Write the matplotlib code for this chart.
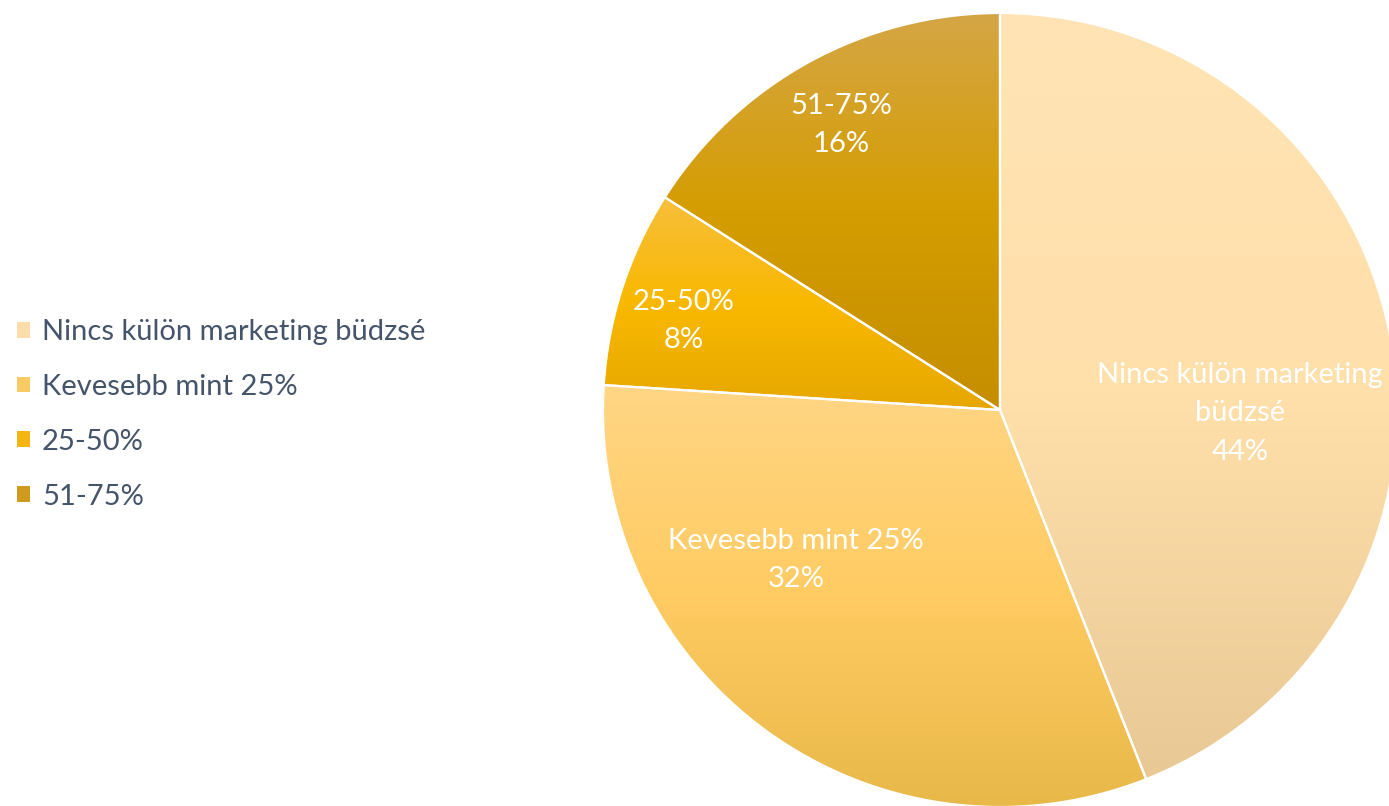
import numpy as np
import matplotlib
matplotlib.use('Agg')
import matplotlib.pyplot as plt
from matplotlib.colors import LinearSegmentedColormap
from matplotlib.patches import Patch

plt.rcParams['font.family'] = ['Lato', 'DejaVu Sans']

categories = ['Nincs külön marketing büdzsé', 'Kevesebb mint 25%', '25-50%', '51-75%']
shares = [44, 32, 8, 16]
wedge_labels = ['Nincs külön marketing\nbüdzsé', 'Kevesebb mint 25%', '25-50%', '51-75%']

# three-stop vertical gradient per wedge: top / middle / bottom
grad_top = ['#FFE4B5', '#FFD685', '#F7BF3C', '#D5A646']
grad_mid = ['#FFDFAA', '#FFCB62', '#F9B800', '#D49D00']
grad_bottom = ['#E8C894', '#E8B849', '#E6A700', '#C48E00']
legend_col = ['#FADDAA', '#FACB65', '#F4B412', '#CF9B1E']

# label centres in axis units (radius = 1)
label_xy = [(0.605, -0.008), (-0.514, -0.378), (-0.796, 0.224), (-0.401, 0.718)]

W, H = 1389, 806
fig = plt.figure(figsize=(W / 100, H / 100), dpi=100)

cx, cy, r = 1000, 410, 397
ax = fig.add_axes([(cx - r) / W, (H - cy - r) / H, 2 * r / W, 2 * r / H])

wedges, _ = ax.pie(shares, startangle=90, counterclock=False, radius=1,
                   wedgeprops=dict(edgecolor='white', linewidth=1.6))

grad = np.linspace(0, 1, 256).reshape(-1, 1)
for i, w in enumerate(wedges):
    w.set_facecolor('none')
    ext = w.get_path().get_extents()
    cmap = LinearSegmentedColormap.from_list(
        f'g{i}', [grad_bottom[i], grad_mid[i], grad_top[i]])
    im = ax.imshow(grad, cmap=cmap, origin='lower', aspect='auto',
                   extent=[ext.x0, ext.x1, ext.y0, ext.y1], zorder=w.get_zorder() - 0.1,
                   interpolation='bilinear')
    im.set_clip_path(w)

for i, (lx, ly) in enumerate(label_xy):
    ax.text(lx, ly, f'{wedge_labels[i]}\n{shares[i]}%', ha='center', va='center',
            color='white', fontsize=21, linespacing=1.6, zorder=5)

ax.set_xlim(-1, 1)
ax.set_ylim(-1, 1)
ax.set_aspect('equal')
ax.axis('off')

handles = [Patch(facecolor=c, edgecolor='none') for c in legend_col]
fig.legend(handles, categories, loc='center left', bbox_to_anchor=(17 / W, 0.486),
           frameon=False, fontsize=21, labelcolor='#44546A', borderpad=0, borderaxespad=0,
           handlelength=0.46, handleheight=0.46, handletextpad=0.4, labelspacing=0.99)

fig.savefig('out.png', dpi=100, facecolor='white')
